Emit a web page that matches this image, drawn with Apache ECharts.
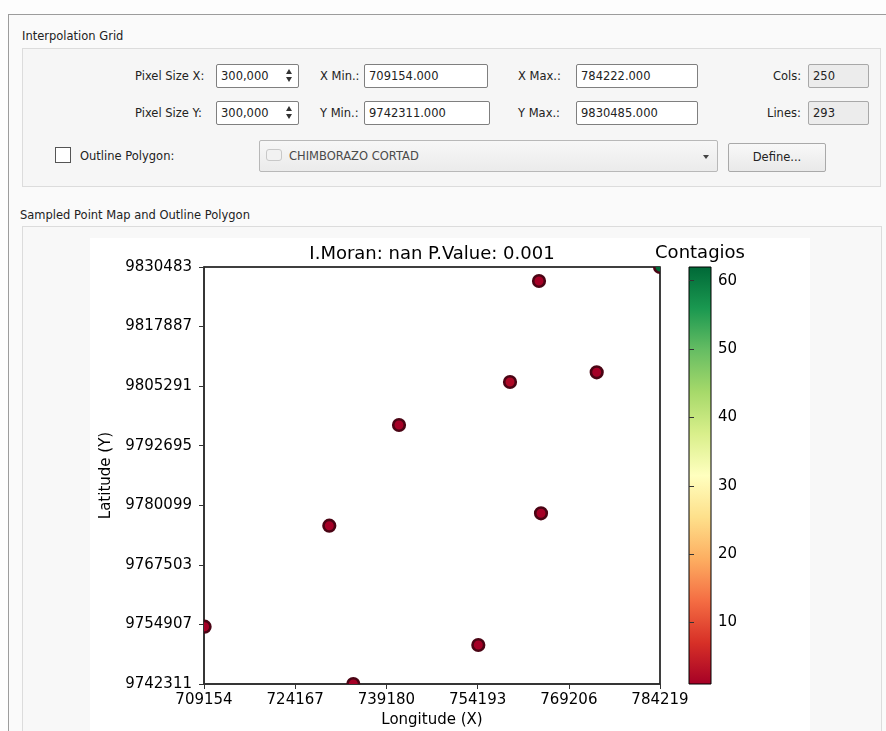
<!DOCTYPE html>
<html>
<head>
<meta charset="utf-8">
<script src="https://cdn.jsdelivr.net/npm/echarts@6/dist/echarts.min.js"></script>
<style>
  html, body { margin:0; padding:0; width:886px; height:731px; overflow:hidden; background:#fdfdfd; font-family:"DejaVu Sans", sans-serif; font-size:11.5px; color:#222; }
  .abs { position:absolute; }
  .lbl { position:absolute; white-space:nowrap; line-height:14px; }
  .field { position:absolute; background:#fff; border:1px solid #7f7f7f; border-radius:2px; box-sizing:border-box; line-height:22px; padding-left:4px; white-space:nowrap; }
  .field.dis { background:#ececec; border-color:#a8a8a8; }
  .spin { position:absolute; right:2px; top:3px; width:13px; height:16px; }
  .up { position:absolute; left:3px; top:1px; width:0; height:0; border-left:3.5px solid transparent; border-right:3.5px solid transparent; border-bottom:5px solid #333; }
  .dn { position:absolute; left:3px; top:9px; width:0; height:0; border-left:3.5px solid transparent; border-right:3.5px solid transparent; border-top:5px solid #333; }
  #chart { position:absolute; left:0; top:0; width:886px; height:731px; }
</style>
</head>
<body>
<!-- window frame -->
<div class="abs" style="left:8px; top:14px; width:878px; height:717px; border-top:1px solid #9c9c9c; border-left:1px solid #9c9c9c; background:#fafafa;"></div>

<div class="lbl" style="left:22px; top:29px;">Interpolation Grid</div>
<div class="abs" style="left:22px; top:48px; width:857px; height:137px; border:1px solid #dcdcdc; background:#f6f6f6;"></div>

<!-- row 1 -->
<div class="lbl" style="left:135px; top:69px;">Pixel Size X:</div>
<div class="field" style="left:216px; top:64px; width:83px; height:24px;">300,000<div class="spin"><div class="up"></div><div class="dn"></div></div></div>
<div class="lbl" style="left:320px; top:69px;">X Min.:</div>
<div class="field" style="left:364px; top:64px; width:124px; height:24px;">709154.000</div>
<div class="lbl" style="left:518px; top:69px;">X Max.:</div>
<div class="field" style="left:576px; top:64px; width:122px; height:24px;">784222.000</div>
<div class="lbl" style="left:773px; top:69px;">Cols:</div>
<div class="field dis" style="left:808px; top:64px; width:61px; height:24px;">250</div>

<!-- row 2 -->
<div class="lbl" style="left:135px; top:106px;">Pixel Size Y:</div>
<div class="field" style="left:216px; top:101px; width:83px; height:24px;">300,000<div class="spin"><div class="up"></div><div class="dn"></div></div></div>
<div class="lbl" style="left:320px; top:106px;">Y Min.:</div>
<div class="field" style="left:364px; top:101px; width:126px; height:24px;">9742311.000</div>
<div class="lbl" style="left:518px; top:106px;">Y Max.:</div>
<div class="field" style="left:576px; top:101px; width:122px; height:24px;">9830485.000</div>
<div class="lbl" style="left:767px; top:106px;">Lines:</div>
<div class="field dis" style="left:808px; top:101px; width:61px; height:24px;">293</div>

<!-- row 3 -->
<div class="abs" style="left:55px; top:147px; width:16px; height:16px; border:1px solid #555; background:#fff; box-sizing:border-box;"></div>
<div class="lbl" style="left:80px; top:149px;">Outline Polygon:</div>
<div class="abs" style="left:259px; top:140px; width:459px; height:32px; border:1px solid #b8b8b8; border-radius:2px; box-sizing:border-box; background:linear-gradient(#f7f7f7,#ebebeb);"></div>
<div class="abs" style="left:266px; top:149px; width:14px; height:10px; border:1px solid #c8c8c8; border-radius:3px; background:#f2f2f2;"></div>
<div class="lbl" style="left:289px; top:149px; color:#4a4a4a;">CHIMBORAZO CORTAD</div>
<div class="abs" style="left:703px; top:155px; width:0; height:0; border-left:3px solid transparent; border-right:3px solid transparent; border-top:4px solid #444;"></div>
<div class="abs" style="left:728px; top:143px; width:98px; height:29px; border:1px solid #a9a9a9; border-radius:2px; box-sizing:border-box; background:linear-gradient(#f8f8f8,#e9e9e9); text-align:center; line-height:27px;">Define...</div>

<!-- second group -->
<div class="lbl" style="left:20px; top:208px;">Sampled Point Map and Outline Polygon</div>
<div class="abs" style="left:22px; top:226px; width:858px; height:510px; border:1px solid #dcdcdc; background:#f8f8f8;"></div>
<div class="abs" style="left:90px; top:238px; width:720px; height:493px; background:#ffffff;"></div>

<div id="chart"></div>
<script>
// ---- data ----
const xTicks = [709154, 724167, 739180, 754193, 769206, 784219];
const yTicks = [9742311, 9754907, 9767503, 9780099, 9792695, 9805291, 9817887, 9830483];
const cbTicks = [10, 20, 30, 40, 50, 60];
const pointX = [764301, 759527, 773800, 741255, 729781, 764630, 709250, 754309, 733732, 784222];
const pointY = [9827523, 9806166, 9808218, 9797075, 9775783, 9778404, 9754427, 9750557, 9742311, 9830485];
const contagios = [1, 2, 1, 1, 1, 1, 1, 1, 1, 62];
const titleText = 'I.Moran: nan P.Value: 0.001';
const cbTitle = 'Contagios';
const xName = 'Longitude (X)';
const yName = 'Latitude (Y)';
const rdylgn = ['#a50026','#d73027','#f46d43','#fdae61','#fee08b','#ffffbf','#d9ef8b','#a6d96a','#66bd63','#1a9850','#006837'];

const FONT = 'DejaVu Sans';
const cbMin = Math.min(...contagios);
const cbMax = Math.max(...contagios);
const gradient = {
  type: 'linear', x: 0, y: 1, x2: 0, y2: 0,
  colorStops: rdylgn.map((c, i) => ({ offset: i / (rdylgn.length - 1), color: c }))
};
const data = pointX.map((x, i) => [x, pointY[i], contagios[i]]);
const lbl = { fontFamily: FONT, fontSize: 15, color: '#000' };

const chart = echarts.init(document.getElementById('chart'), null, { renderer: 'canvas' });
chart.setOption({
  animation: false,
  backgroundColor: 'transparent',
  title: [
    { text: titleText, left: 432, top: 245, textAlign: 'center', padding: 0,
      textStyle: { fontFamily: FONT, fontSize: 18, fontWeight: 'normal', color: '#000' } },
    { text: cbTitle, left: 700, top: 244, textAlign: 'center', padding: 0,
      textStyle: { fontFamily: FONT, fontSize: 18, fontWeight: 'normal', color: '#000' } }
  ],
  grid: [
    { left: 204, top: 267, width: 456, height: 417, show: true, backgroundColor: '#fff',
      borderColor: '#000', borderWidth: 1.5, outerBoundsMode: 'none', containLabel: false },
    { left: 689, top: 267, width: 22, height: 417, show: true, backgroundColor: gradient,
      borderColor: '#000', borderWidth: 1, outerBoundsMode: 'none', containLabel: false }
  ],
  xAxis: [
    { gridIndex: 0, type: 'value', min: xTicks[0], max: xTicks[xTicks.length - 1],
      name: xName, nameLocation: 'middle', nameGap: 27, nameTextStyle: lbl,
      axisLine: { show: true, onZero: false, lineStyle: { color: '#333', width: 1.5 } },
      axisTick: { show: true, length: 5, customValues: xTicks, lineStyle: { color: '#333' } },
      axisLabel: Object.assign({ customValues: xTicks, margin: 9, formatter: v => String(v) }, lbl),
      splitLine: { show: false } },
    { gridIndex: 1, type: 'value', show: false, min: 0, max: 1 }
  ],
  yAxis: [
    { gridIndex: 0, type: 'value', min: yTicks[0], max: yTicks[yTicks.length - 1],
      name: yName, nameLocation: 'middle', nameGap: 90, nameTextStyle: lbl,
      axisLine: { show: true, onZero: false, lineStyle: { color: '#333', width: 1.5 } },
      axisTick: { show: true, length: 5, customValues: yTicks, lineStyle: { color: '#333' } },
      axisLabel: Object.assign({ customValues: yTicks, margin: 12, formatter: v => String(v) }, lbl),
      splitLine: { show: false } },
    { gridIndex: 1, type: 'value', position: 'right', min: cbMin, max: cbMax,
      axisLine: { show: false },
      axisTick: { show: true, length: 5, customValues: cbTicks, lineStyle: { color: '#333' } },
      axisLabel: Object.assign({ customValues: cbTicks, margin: 7, formatter: v => String(v) }, lbl),
      splitLine: { show: false } }
  ],
  visualMap: {
    type: 'continuous', show: false, min: cbMin, max: cbMax, dimension: 2, seriesIndex: 0,
    inRange: { color: rdylgn }
  },
  series: [
    { type: 'custom', xAxisIndex: 0, yAxisIndex: 0, data: data, clip: true,
      encode: { x: 0, y: 1 },
      renderItem: function (params, api) {
        const p = api.coord([api.value(0), api.value(1)]);
        return {
          type: 'circle',
          shape: { cx: p[0], cy: p[1], r: 5.8 },
          style: { fill: api.visual('color'), stroke: '#4a0414', lineWidth: 2.6 }
        };
      } }
  ]
});
</script>
</body>
</html>
